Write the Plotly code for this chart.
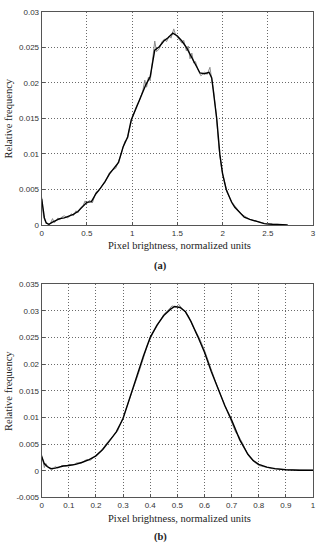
import plotly.graph_objects as go

# ---------------- data: panel (a) ----------------
a_smooth_x = [0, 0.01, 0.03, 0.05, 0.08, 0.12, 0.16, 0.2, 0.25, 0.3, 0.35, 0.4, 0.45, 0.5, 0.55,
              0.6, 0.65, 0.7, 0.75, 0.8, 0.85, 0.9, 0.95, 0.99, 1.05, 1.1, 1.15, 1.2, 1.25, 1.3,
              1.35, 1.4, 1.45, 1.5, 1.55, 1.6, 1.65, 1.7, 1.75, 1.8, 1.85, 1.88, 1.9, 1.935, 1.97,
              2.0, 2.04, 2.1, 2.135, 2.2, 2.24, 2.3, 2.4, 2.46, 2.55, 2.72]
a_smooth_y = [0.0037, 0.0026, 0.0010, 0.0003, 0.0001, 0.0004, 0.0007, 0.0009, 0.0010, 0.0012,
              0.0015, 0.0019, 0.0026, 0.0032, 0.0033, 0.0044, 0.0052, 0.0061, 0.0072, 0.0080,
              0.0088, 0.0110, 0.0124, 0.0148, 0.0166, 0.0180, 0.0197, 0.0209, 0.0246, 0.0251,
              0.0259, 0.0264, 0.0270, 0.0266, 0.0259, 0.0250, 0.0238, 0.0226, 0.0214, 0.0213,
              0.0215, 0.0207, 0.0187, 0.0150, 0.0099, 0.0072, 0.0050, 0.0032, 0.0025, 0.0016,
              0.0011, 0.0008, 0.0004, 0.0002, 0.0001, 0.0]

a_raw_x = [0, 0.02, 0.04, 0.06, 0.08, 0.1, 0.12, 0.14, 0.16, 0.18, 0.2, 0.22, 0.25, 0.28, 0.3,
           0.33, 0.35, 0.38, 0.4, 0.43, 0.46, 0.48, 0.5, 0.53, 0.56, 0.6, 0.63, 0.66, 0.7, 0.75,
           0.78, 0.82, 0.85, 0.88, 0.92, 0.95, 0.97, 1.0, 1.05, 1.08, 1.12, 1.14, 1.16, 1.18, 1.2,
           1.23, 1.25, 1.27, 1.3, 1.33, 1.36, 1.38, 1.41, 1.43, 1.46, 1.48, 1.52, 1.55, 1.57, 1.6,
           1.62, 1.64, 1.66, 1.68, 1.7, 1.73, 1.76, 1.8, 1.83, 1.86, 1.88, 1.9, 1.93, 1.96, 1.99,
           2.02, 2.05, 2.1, 2.2, 2.3, 2.4, 2.5, 2.6, 2.7]
a_raw_y = [0.0039, 0.0012, 0.0005, 0.0002, 0.0000, 0.0003, 0.0009, 0.0003, 0.0006, 0.0010,
           0.0007, 0.0011, 0.0013, 0.0010, 0.0011, 0.0016, 0.0013, 0.0020, 0.0017, 0.0024,
           0.0028, 0.0034, 0.0030, 0.0035, 0.0031, 0.0046, 0.0048, 0.0054, 0.0060, 0.0074,
           0.0077, 0.0080, 0.0090, 0.0100, 0.0118, 0.0122, 0.0135, 0.0150, 0.0168, 0.0175,
           0.0190, 0.0204, 0.0194, 0.0208, 0.0203, 0.0235, 0.0259, 0.0244, 0.0248, 0.0258,
           0.0262, 0.0258, 0.0266, 0.0263, 0.0276, 0.0268, 0.0262, 0.0256, 0.0260, 0.0245,
           0.0252, 0.0234, 0.0242, 0.0228, 0.0230, 0.0218, 0.0210, 0.0215, 0.0212, 0.0222,
           0.0205, 0.0190, 0.0155, 0.0108, 0.0078, 0.0064, 0.0046, 0.0033, 0.0016, 0.0008,
           0.0004, 0.0001, 0.0001, 0.0]

# ---------------- data: panel (b) ----------------
b_smooth_x = [0, 0.01, 0.02, 0.034, 0.05, 0.064, 0.08, 0.1, 0.125, 0.15, 0.175, 0.2, 0.225, 0.25,
              0.275, 0.3, 0.325, 0.35, 0.375, 0.4, 0.425, 0.45, 0.475, 0.49, 0.51, 0.53, 0.55,
              0.575, 0.6, 0.625, 0.65, 0.675, 0.7, 0.73, 0.76, 0.78, 0.8, 0.83, 0.86, 0.9, 0.95, 1.0]
b_smooth_y = [0.0027, 0.0013, 0.0008, 0.0004, 0.0005, 0.0007, 0.0009, 0.0010, 0.0012, 0.0016,
              0.0021, 0.0028, 0.0040, 0.0056, 0.0073, 0.0098, 0.0138, 0.0175, 0.0215, 0.0250,
              0.0273, 0.0291, 0.0303, 0.0308, 0.0306, 0.0298, 0.0280, 0.0252, 0.0222, 0.0186,
              0.0155, 0.0122, 0.0095, 0.0058, 0.0031, 0.0019, 0.0012, 0.0007, 0.0004, 0.0002,
              0.0001, 0.0001]

b_raw_x = [0, 0.01, 0.015, 0.025, 0.04, 0.05, 0.06, 0.075, 0.09, 0.1, 0.115, 0.13, 0.145, 0.165,
           0.18, 0.2, 0.22, 0.24, 0.265, 0.28, 0.3, 0.32, 0.34, 0.355, 0.37, 0.39, 0.41, 0.43,
           0.45, 0.47, 0.48, 0.495, 0.505, 0.52, 0.54, 0.56, 0.58, 0.6, 0.62, 0.64, 0.66, 0.68,
           0.7, 0.715, 0.725, 0.74, 0.76, 0.78, 0.8, 0.82, 0.85, 0.9, 1.0]
b_raw_y = [0.0030, 0.0006, 0.0014, 0.0006, 0.0003, 0.0008, 0.0005, 0.0010, 0.0009, 0.0012,
           0.0011, 0.0015, 0.0014, 0.0021, 0.0020, 0.0029, 0.0038, 0.0052, 0.0066, 0.0075,
           0.0100, 0.0128, 0.0160, 0.0180, 0.0203, 0.0236, 0.0258, 0.0276, 0.0293, 0.0303,
           0.0309, 0.0307, 0.0312, 0.0302, 0.0291, 0.0268, 0.0250, 0.0226, 0.0196, 0.0168,
           0.0142, 0.0116, 0.0093, 0.0072, 0.0066, 0.0052, 0.0030, 0.0018, 0.0010, 0.0008,
           0.0004, 0.0002, 0.0001]

a_xticks = [0, 0.5, 1, 1.5, 2, 2.5, 3]
a_xtick_text = ["0", "0.5", "1", "1.5", "2", "2.5", "3"]
a_yticks = [0, 0.005, 0.01, 0.015, 0.02, 0.025, 0.03]
a_ytick_text = ["0", "0.005", "0.01", "0.015", "0.02", "0.025", "0.03"]
b_xticks = [0, 0.1, 0.2, 0.3, 0.4, 0.5, 0.6, 0.7, 0.8, 0.9, 1]
b_xtick_text = ["0", "0.1", "0.2", "0.3", "0.4", "0.5", "0.6", "0.7", "0.8", "0.9", "1"]
b_yticks = [-0.005, 0, 0.005, 0.01, 0.015, 0.02, 0.025, 0.03, 0.035]
b_ytick_text = ["-0.005", "0", "0.005", "0.01", "0.015", "0.02", "0.025", "0.03", "0.035"]

x_title = "Pixel brightness, normalized units"
y_title = "Relative frequency"

W, H = 322, 550
def py(px):
    return 1 - px / H
def pxx(px):
    return px / W

fig = go.Figure()
grey = "#8c8c8c"
fig.add_trace(go.Scatter(x=a_raw_x, y=a_raw_y, mode="lines", line=dict(color=grey, width=1),
                         xaxis="x", yaxis="y", showlegend=False, hoverinfo="skip"))
fig.add_trace(go.Scatter(x=a_smooth_x, y=a_smooth_y, mode="lines", line=dict(color="black", width=1.4),
                         xaxis="x", yaxis="y", showlegend=False))
fig.add_trace(go.Scatter(x=b_raw_x, y=b_raw_y, mode="lines", line=dict(color=grey, width=1),
                         xaxis="x2", yaxis="y2", showlegend=False, hoverinfo="skip"))
fig.add_trace(go.Scatter(x=b_smooth_x, y=b_smooth_y, mode="lines", line=dict(color="black", width=1.4),
                         xaxis="x2", yaxis="y2", showlegend=False))

tickfont = dict(family="Liberation Sans, Arial", size=8, color="#333333")
common = dict(showline=True, linecolor="#555555", linewidth=1, mirror=True,
              showgrid=True, gridcolor="#6a6a6a", gridwidth=1, griddash="1px,2px",
              zeroline=False, ticks="inside", ticklen=3, tickcolor="#555555",
              tickfont=tickfont, fixedrange=True, ticklabeloverflow="allow")

xdom = [pxx(40.3), pxx(316)]
fig.update_layout(
    width=W, height=H, margin=dict(l=0, r=0, t=0, b=0),
    paper_bgcolor="white", plot_bgcolor="white",
    xaxis=dict(domain=xdom, range=[0, 3.0005], tickvals=a_xticks, ticktext=a_xtick_text,
               anchor="y", **common),
    yaxis=dict(domain=[py(224.7), py(8)], range=[0, 0.03], tickvals=a_yticks,
               ticktext=a_ytick_text, anchor="x", **common),
    xaxis2=dict(domain=xdom, range=[0, 1.0002], tickvals=b_xticks, ticktext=b_xtick_text,
                anchor="y2", **common),
    yaxis2=dict(domain=[py(501.7), py(284.7)], range=[-0.005, 0.035], tickvals=b_yticks,
                ticktext=b_ytick_text, anchor="x2", **common),
)

serif = "Liberation Serif, Times New Roman"
anns = []
for (xc, yc) in [(180, 246), (180, 523)]:
    anns.append(dict(text=x_title, x=pxx(xc), y=py(yc), xref="paper", yref="paper",
                     showarrow=False, xanchor="center", yanchor="middle",
                     font=dict(family=serif, size=10.5, color="#222222")))
for yc in [116, 393]:
    anns.append(dict(text=y_title, x=pxx(6.5), y=py(yc), xref="paper", yref="paper",
                     showarrow=False, xanchor="center", yanchor="middle", textangle=-90,
                     font=dict(family=serif, size=10.5, color="#222222")))
for (lab, yc) in [("<b>(a)</b>", 266), ("<b>(b)</b>", 542)]:
    anns.append(dict(text=lab, x=pxx(161), y=py(yc), xref="paper", yref="paper",
                     showarrow=False, xanchor="center", yanchor="middle",
                     font=dict(family=serif, size=10.5, color="#222222")))
fig.update_layout(annotations=anns)

fig.write_html("out.html", config={"displayModeBar": False},
               post_script="document.body.style.margin='0';document.body.style.overflow='hidden';")
